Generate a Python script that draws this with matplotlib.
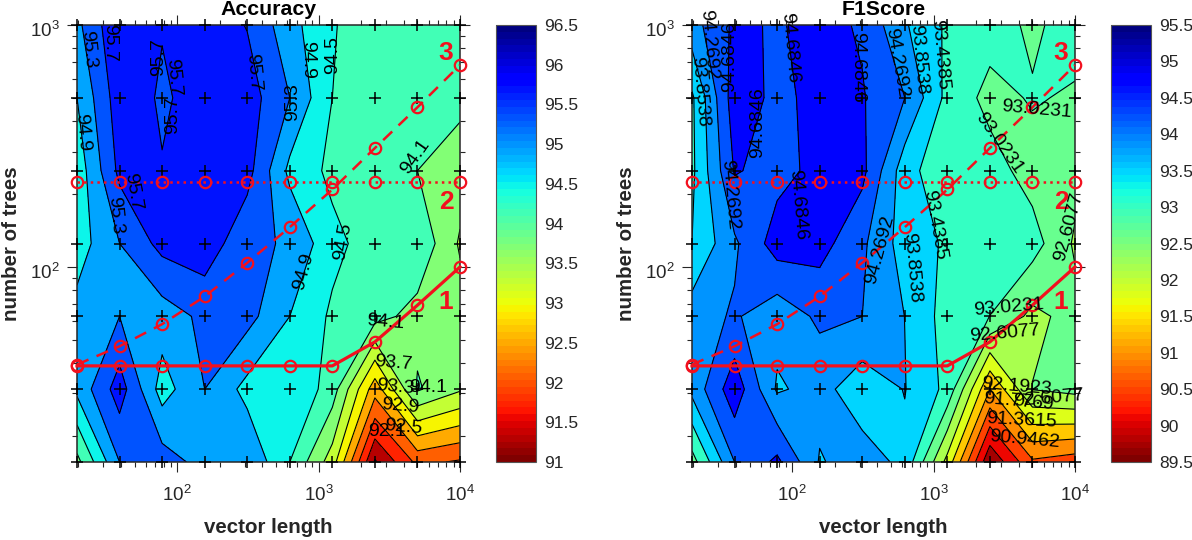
import numpy as np
import matplotlib
matplotlib.use("Agg")
import matplotlib.pyplot as plt
from matplotlib.cm import ScalarMappable
from matplotlib.colors import Normalize
from matplotlib.ticker import LogLocator, NullFormatter
from matplotlib.transforms import Affine2D, ScaledTranslation

plt.rcParams['font.family'] = ['Liberation Sans', 'DejaVu Sans']

vector_length = [19.53125, 39.0625, 78.125, 156.25, 312.5, 625, 1250, 2500, 5000, 10000]
n_trees = [1000, 500, 250, 125, 62.5, 31.25, 15.625]

accuracy = [
    [95.20, 96.06, 95.72, 95.95, 95.68, 95.05, 94.52, 94.35, 94.30, 94.30],
    [94.90, 95.93, 95.65, 95.85, 95.90, 95.30, 94.50, 94.35, 94.30, 94.20],
    [94.65, 95.80, 95.72, 96.00, 95.85, 94.80, 94.40, 94.30, 94.10, 93.90],
    [94.70, 95.30, 95.83, 95.95, 95.40, 95.25, 94.62, 94.30, 94.42, 93.65],
    [95.05, 95.30, 95.10, 95.39, 95.44, 94.90, 94.43, 94.25, 93.95, 93.90],
    [95.00, 95.90, 94.72, 95.30, 94.77, 94.90, 94.30, 92.67, 94.15, 93.75],
    [93.98, 95.30, 95.50, 95.15, 95.25, 94.50, 93.50, 91.25, 92.20, 92.05],
]
f1score = [
    [94.10, 94.77, 94.64, 94.84, 94.63, 93.90, 93.37, 93.20, 92.95, 93.20],
    [93.37, 94.92, 94.58, 94.81, 94.72, 94.27, 93.32, 92.89, 93.06, 92.97],
    [93.35, 94.72, 94.54, 94.81, 94.80, 93.62, 93.10, 93.20, 92.85, 92.75],
    [93.44, 94.20, 94.89, 94.85, 94.35, 93.66, 93.38, 93.25, 93.20, 92.55],
    [94.07, 94.32, 94.00, 94.35, 94.27, 93.85, 93.26, 93.02, 92.50, 92.75],
    [93.98, 94.95, 93.80, 94.00, 93.60, 93.87, 93.33, 91.36, 92.62, 92.75],
    [92.85, 94.27, 94.78, 93.82, 94.05, 93.75, 92.05, 89.75, 90.88, 90.72],
]

accuracy_levels = [90.9, 91.3, 91.7, 92.1, 92.5, 92.9, 93.3, 93.7, 94.1, 94.5, 94.9, 95.3, 95.7, 96.1]
f1_levels = [89.69, 90.1154, 90.5308, 90.9462, 91.3615, 91.7769, 92.1923, 92.6077,
             93.0231, 93.4385, 93.8538, 94.2692, 94.6846, 95.1]
accuracy_ticks = [91, 91.5, 92, 92.5, 93, 93.5, 94, 94.5, 95, 95.5, 96, 96.5]
f1_ticks = [89.5, 90, 90.5, 91, 91.5, 92, 92.5, 93, 93.5, 94, 94.5, 95, 95.5]

line1_trees = [39, 39, 39, 39, 39, 39, 39, 49, 69.5, 100]
line2_trees = [224] * 10
line3_trees = [39.5, 47, 58, 75.5, 104, 146, 209, 310, 457, 683]

# (text, centre x px, centre y px, rotation)
accuracy_labels = [
    ("95.3", 88, 49, -85), ("95.7", 110, 43, -90), ("95.7", 159, 57, 90), ("95.7", 173, 77, -85),
    ("95.7", 173, 115, 90), ("95.7", 253, 72, -85), ("94.9", 82, 132, -85), ("95.7", 133, 192, -80),
    ("95.3", 115, 215, -85), ("95.3", 293, 102, 90), ("94.9", 308, 60, -90), ("94.5", 333, 55, 90),
    ("94.1", 415, 157, 55), ("94.5", 343, 242, 80), ("94.9", 304, 272, 75), ("94.1", 385, 322, -5),
    ("93.7", 393, 363, -5), ("93.3", 395, 387, -5), ("94.1", 428, 388, 0), ("92.9", 400, 406, -5),
    ("92.5", 403, 427, -5), ("92.1", 387, 431, 0),
]
f1_labels = [
    ("94.2692", 709, 45, -85), ("93.8538", 700, 92, -85), ("94.6846", 730, 57, 90),
    ("94.6846", 790, 48, -85), ("94.6846", 858, 67, -90), ("94.6846", 758, 123, 90),
    ("94.6846", 798, 205, -85), ("94.2692", 730, 195, -85), ("94.2692", 897, 63, -80),
    ("93.8538", 919, 60, -85), ("93.4385", 940, 55, -85), ("93.8538", 912, 268, -85),
    ("94.2692", 880, 250, 75), ("93.4385", 935, 225, -80), ("93.0231", 1037, 110, -5),
    ("93.0231", 999, 143, -55), ("92.6077", 1069, 227, 75), ("93.0231", 1009, 307, 5),
    ("92.6077", 1005, 333, 5), ("92.1923", 1017, 387, -5), ("92.6077", 1049, 398, 5),
    ("91.7769", 1019, 402, -5), ("91.3615", 1022, 420, -3), ("90.9462", 1025, 440, -5),
]

W, H = 1192, 540
RED = '#f2101e'
DARK = '#262626'
fig = plt.figure(figsize=(W / 100, H / 100), dpi=100)


def rect(x0, x1, y0, y1):
    return [x0 / W, 1 - y1 / H, (x1 - x0) / W, (y1 - y0) / H]


def panel(ax_rect, cax_rect, values, levels, vmin, vmax, ticks, title, labels, num_x):
    ax = fig.add_axes(ax_rect)
    ax.set_xscale('log')
    ax.set_yscale('log')
    xlim = (vector_length[0], vector_length[-1])
    ylim = (n_trees[-1], n_trees[0])
    ax.set_xlim(xlim)
    ax.set_ylim(ylim)

    cmap = plt.get_cmap('jet_r', 64)
    norm = Normalize(vmin, vmax)
    lx, ly = np.log10(vector_length), np.log10(n_trees)
    # contours are interpolated in log space, then mapped onto the axes
    to_axes = Affine2D().translate(-lx[0], -ly[-1]).scale(1 / (lx[-1] - lx[0]), 1 / (ly[0] - ly[-1])) + ax.transAxes
    Z = np.array(values)
    fill_colors = [cmap(norm(v)) for v in levels[:-1]]
    ax.contourf(lx, ly, Z, levels=levels, colors=fill_colors, transform=to_axes, zorder=1)
    ax.contour(lx, ly, Z, levels=levels[1:-1], colors='k', linewidths=0.8, transform=to_axes, zorder=2)
    ax.set_xlim(xlim)
    ax.set_ylim(ylim)

    XX, YY = np.meshgrid(vector_length, n_trees)
    ax.plot(XX.ravel(), YY.ravel(), ls='none', marker='+', ms=8, mew=1.1, color='k', clip_on=False, zorder=4)

    style = dict(color=RED, marker='o', ms=8.2, mfc='none', mew=1.6, clip_on=False, zorder=5)
    ax.plot(vector_length, line1_trees, '-', lw=2.3, **style)
    ax.plot(vector_length, line2_trees, ':', lw=1.8, **style)
    ax.plot(vector_length, line3_trees, '--', lw=1.8, dashes=(5, 3.5), **style)

    for which_axis in (ax.xaxis, ax.yaxis):
        which_axis.set_major_locator(LogLocator(base=10, numticks=10))
        which_axis.set_minor_locator(LogLocator(base=10, subs=np.arange(2, 10), numticks=10))
        which_axis.set_minor_formatter(NullFormatter())
    ax.tick_params(which='major', direction='out', length=7.2, width=0.8, color=DARK, top=True, right=True,
                   labelsize=13.5, labelcolor=DARK)
    ax.tick_params(which='minor', direction='out', length=3.6, width=0.8, color=DARK, top=True, right=True)
    ax.tick_params(axis='x', which='major', pad=9)
    ax.tick_params(axis='y', which='major', pad=5)
    shift_down = ScaledTranslation(0, -4 / 100, fig.dpi_scale_trans)
    for lab in ax.yaxis.get_majorticklabels():
        lab.set_transform(lab.get_transform() + shift_down)
    for s in ax.spines.values():
        s.set_linewidth(1.1)
        s.set_color(DARK)

    ax.set_xlabel('vector length', fontsize=14.8, fontweight='bold', color=DARK, va='center')
    ax.xaxis.set_label_coords(0.5, -0.151)
    ax.set_ylabel('number of trees', fontsize=14.8, fontweight='bold', color=DARK, va='center')
    ax.yaxis.set_label_coords(-0.172, 0.5)
    ax.set_title(title, fontsize=15.3, fontweight='bold', y=1.0, pad=7, color='k')

    for txt, px, py, rot in labels:
        fig.text(px / W, 1 - py / H, txt, fontsize=14, color='k', rotation=rot,
                 ha='center', va='center', rotation_mode='anchor', zorder=6)
    for txt, py in (('3', 53), ('2', 202), ('1', 302)):
        fig.text(num_x / W, 1 - py / H, txt, fontsize=19, fontweight='bold', color=RED, ha='center', va='center')

    cax = fig.add_axes(cax_rect)
    cb = fig.colorbar(ScalarMappable(norm=norm, cmap=cmap), cax=cax)
    cb.set_ticks(ticks)
    cb.set_ticklabels([f'{t:g}' for t in ticks])
    cb.ax.tick_params(length=0, pad=6, labelsize=12.5, labelcolor=DARK)
    cb.outline.set_edgecolor('#555555')
    cb.outline.set_linewidth(0.8)


panel(rect(77, 460, 25, 462), rect(496, 536, 25, 462), accuracy, accuracy_levels, 91, 96.5,
      accuracy_ticks, 'Accuracy', accuracy_labels, 446)
panel(rect(692, 1075, 25, 462), rect(1111, 1151, 25, 462), f1score, f1_levels, 89.5, 95.5,
      f1_ticks, 'F1Score', f1_labels, 1061)

fig.savefig('out.png', dpi=100)
